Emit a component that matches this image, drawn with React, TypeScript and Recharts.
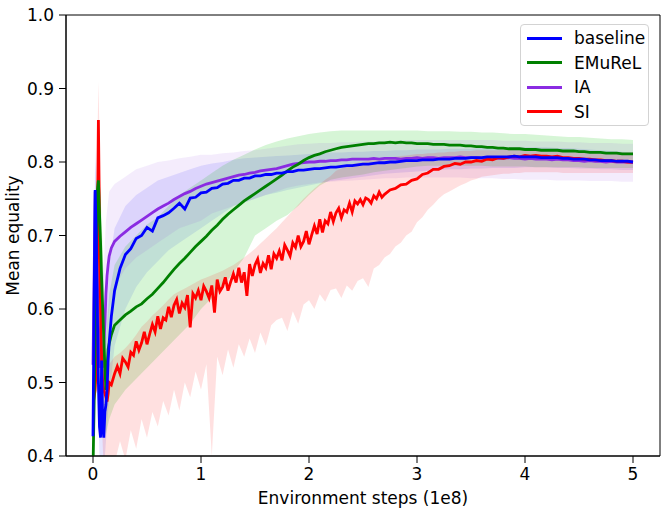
import { ComposedChart, Line, Area, XAxis, YAxis, ReferenceArea, Legend } from "recharts"

// x positions of the logged points (1e8 environment steps)
const steps = [
  0, 0.01, 0.02, 0.03, 0.04, 0.05, 0.06, 0.07, 0.08, 0.09, 0.1, 0.11, 0.12, 0.13, 0.14, 0.15, 0.17, 0.2,
  0.25, 0.3, 0.35, 0.4, 0.45, 0.5, 0.55, 0.6, 0.65, 0.7,
  0.75, 0.8, 0.85, 0.9, 0.95, 1.0, 1.05, 1.1, 1.15, 1.2,
  1.25, 1.3, 1.35, 1.4, 1.45, 1.5, 1.55, 1.6, 1.65, 1.7,
  1.75, 1.8, 1.85, 1.9, 1.95, 2.0, 2.05, 2.1, 2.15, 2.2,
  2.25, 2.3, 2.35, 2.4, 2.45, 2.5, 2.55, 2.6, 2.65, 2.7,
  2.75, 2.8, 2.85, 2.9, 2.95, 3.0, 3.05, 3.1, 3.15, 3.2,
  3.25, 3.3, 3.35, 3.4, 3.45, 3.5, 3.55, 3.6, 3.65, 3.7,
  3.75, 3.8, 3.85, 3.9, 3.95, 4.0, 4.05, 4.1, 4.15, 4.2,
  4.25, 4.3, 4.35, 4.4, 4.45, 4.5, 4.55, 4.6, 4.65, 4.7,
  4.75, 4.8, 4.85, 4.9, 4.95, 5.0,
]

const baseline = [
  0.427, 0.6, 0.762, 0.7, 0.6, 0.5, 0.44, 0.425, 0.53, 0.44, 0.425, 0.46, 0.47, 0.49, 0.53, 0.555, 0.59, 0.625,
  0.655, 0.674, 0.682, 0.696, 0.7, 0.711, 0.706, 0.724, 0.727, 0.731,
  0.737, 0.744, 0.736, 0.751, 0.752, 0.758, 0.759, 0.764, 0.765, 0.77,
  0.771, 0.775, 0.775, 0.778, 0.778, 0.781, 0.781, 0.783, 0.783, 0.785,
  0.785, 0.787, 0.787, 0.789, 0.789, 0.79, 0.791, 0.791, 0.792, 0.793,
  0.793, 0.794, 0.795, 0.795, 0.796, 0.797, 0.797, 0.798, 0.799, 0.799,
  0.8, 0.8, 0.801, 0.802, 0.802, 0.802, 0.803, 0.803, 0.803, 0.804,
  0.804, 0.804, 0.805, 0.805, 0.805, 0.806, 0.806, 0.806, 0.807, 0.807,
  0.807, 0.807, 0.807, 0.808, 0.807, 0.807, 0.807, 0.807, 0.806, 0.806,
  0.806, 0.806, 0.805, 0.805, 0.804, 0.804, 0.804, 0.803, 0.803, 0.802,
  0.802, 0.802, 0.801, 0.801, 0.801, 0.8,
]

const emurel = [
  0.38, 0.47, 0.56, 0.66, 0.76, 0.775, 0.73, 0.69, 0.64, 0.6, 0.56, 0.52, 0.49, 0.52, 0.545, 0.553, 0.565, 0.578,
  0.585, 0.592, 0.597, 0.603, 0.607, 0.614, 0.62, 0.628, 0.636, 0.645,
  0.654, 0.662, 0.669, 0.677, 0.685, 0.692, 0.699, 0.707, 0.714, 0.722,
  0.729, 0.735, 0.741, 0.747, 0.752, 0.757, 0.762, 0.767, 0.772, 0.777,
  0.782, 0.788, 0.793, 0.797, 0.802, 0.806, 0.809, 0.811, 0.814, 0.816,
  0.818, 0.82, 0.821, 0.822, 0.823, 0.824, 0.825, 0.825, 0.826, 0.826,
  0.827, 0.826, 0.827, 0.826, 0.826, 0.825, 0.825, 0.825, 0.824, 0.824,
  0.824, 0.823, 0.823, 0.823, 0.822, 0.822, 0.821, 0.821, 0.82, 0.82,
  0.819, 0.819, 0.818, 0.818, 0.818, 0.817, 0.817, 0.817, 0.816, 0.816,
  0.816, 0.816, 0.815, 0.815, 0.815, 0.814, 0.814, 0.813, 0.813, 0.813,
  0.812, 0.812, 0.812, 0.811, 0.811, 0.811,
]

const ia = [
  0.524, 0.64, 0.76, 0.7, 0.64, 0.58, 0.54, 0.52, 0.53, 0.52, 0.55, 0.58, 0.62, 0.645, 0.66, 0.672, 0.683, 0.692,
  0.699, 0.705, 0.711, 0.716, 0.721, 0.726, 0.731, 0.736, 0.74, 0.744,
  0.749, 0.753, 0.757, 0.76, 0.764, 0.767, 0.77, 0.772, 0.774, 0.776,
  0.778, 0.78, 0.782, 0.783, 0.785, 0.786, 0.788, 0.789, 0.79, 0.791,
  0.793, 0.795, 0.797, 0.798, 0.799, 0.8, 0.8, 0.801, 0.801, 0.802,
  0.802, 0.803, 0.803, 0.804, 0.804, 0.804, 0.804, 0.805, 0.804, 0.805,
  0.805, 0.805, 0.804, 0.805, 0.805, 0.806, 0.805, 0.806, 0.806, 0.805,
  0.806, 0.806, 0.806, 0.807, 0.806, 0.806, 0.806, 0.805, 0.806, 0.805,
  0.805, 0.805, 0.806, 0.805, 0.805, 0.804, 0.805, 0.804, 0.804, 0.804,
  0.803, 0.804, 0.803, 0.803, 0.802, 0.802, 0.801, 0.802, 0.801, 0.801,
  0.8, 0.801, 0.8, 0.8, 0.8, 0.799,
]

// SI is logged more densely, its curve is much noisier
const siSteps = [
  0, 0.01, 0.02, 0.03, 0.04, 0.05, 0.06, 0.07, 0.08, 0.09, 0.1, 0.11, 0.12, 0.13, 0.14, 0.15, 0.17, 0.2,
  0.225, 0.25, 0.275, 0.3, 0.325, 0.35, 0.375, 0.4, 0.425, 0.45,
  0.475, 0.5, 0.525, 0.55, 0.575, 0.6, 0.625, 0.65, 0.675, 0.7,
  0.725, 0.75, 0.775, 0.8, 0.825, 0.85, 0.875, 0.9, 0.925, 0.95,
  0.975, 1.0, 1.025, 1.05, 1.075, 1.1, 1.125, 1.15, 1.175, 1.2,
  1.225, 1.25, 1.275, 1.3, 1.325, 1.35, 1.375, 1.4, 1.425, 1.45,
  1.475, 1.5, 1.525, 1.55, 1.575, 1.6, 1.625, 1.65, 1.675, 1.7,
  1.725, 1.75, 1.775, 1.8, 1.825, 1.85, 1.875, 1.9, 1.925, 1.95,
  1.975, 2.0, 2.025, 2.05, 2.075, 2.1, 2.125, 2.15, 2.175, 2.2,
  2.225, 2.25, 2.275, 2.3, 2.325, 2.35, 2.375, 2.4, 2.425, 2.45,
  2.475, 2.5, 2.525, 2.55, 2.575, 2.6, 2.625, 2.65, 2.675, 2.7,
  2.75, 2.8, 2.85, 2.9, 2.95, 3.0, 3.05, 3.1, 3.15, 3.2,
  3.25, 3.3, 3.35, 3.4, 3.45, 3.5, 3.55, 3.6, 3.65, 3.7,
  3.75, 3.8, 3.85, 3.9, 3.95, 4.0, 4.05, 4.1, 4.15, 4.2,
  4.25, 4.3, 4.35, 4.4, 4.45, 4.5, 4.55, 4.6, 4.65, 4.7,
  4.75, 4.8, 4.85, 4.9, 4.95, 5.0,
]

const si = [
  0.482, 0.48, 0.49, 0.52, 0.7, 0.857, 0.72, 0.6, 0.53, 0.5, 0.49, 0.485, 0.48, 0.474, 0.485, 0.5, 0.497, 0.512,
  0.522, 0.512, 0.533, 0.528, 0.521, 0.541, 0.537, 0.556, 0.544, 0.554,
  0.569, 0.552, 0.566, 0.579, 0.569, 0.59, 0.573, 0.588, 0.585, 0.603,
  0.589, 0.605, 0.613, 0.594, 0.608, 0.602, 0.619, 0.575, 0.621, 0.615,
  0.625, 0.612, 0.631, 0.624, 0.615, 0.632, 0.595, 0.64, 0.624, 0.63,
  0.643, 0.625, 0.637, 0.648, 0.636, 0.656, 0.636, 0.65, 0.618, 0.661,
  0.645, 0.66, 0.668, 0.649, 0.662, 0.656, 0.673, 0.654, 0.675, 0.669,
  0.679, 0.666, 0.687, 0.68, 0.672, 0.69, 0.684, 0.7, 0.685, 0.692,
  0.706, 0.688, 0.701, 0.713, 0.702, 0.722, 0.704, 0.72, 0.716, 0.732,
  0.719, 0.731, 0.737, 0.724, 0.735, 0.732, 0.744, 0.732, 0.747, 0.743,
  0.749, 0.742, 0.751, 0.749, 0.744, 0.754, 0.75, 0.759, 0.752, 0.756,
  0.762, 0.764, 0.769, 0.77, 0.775, 0.777, 0.783, 0.785, 0.79, 0.79,
  0.794, 0.795, 0.798, 0.797, 0.8, 0.8, 0.802, 0.801, 0.804, 0.803,
  0.806, 0.805, 0.807, 0.808, 0.807, 0.809, 0.808, 0.809, 0.808, 0.808,
  0.807, 0.808, 0.806, 0.806, 0.805, 0.805, 0.804, 0.804, 0.803, 0.803,
  0.802, 0.802, 0.801, 0.801, 0.8, 0.8,
]

// shaded spread around the mean curves
const bandSteps = [
  0, 0.02, 0.04, 0.06, 0.08, 0.1, 0.12, 0.15, 0.2,
  0.3, 0.4, 0.5, 0.6, 0.7, 0.8, 0.9, 1.0, 1.1, 1.2,
  1.3, 1.4, 1.5, 1.6, 1.7, 1.8, 1.9, 2.0, 2.1, 2.2,
  2.3, 2.4, 2.5, 2.6, 2.7, 2.8, 2.9, 3.0, 3.1, 3.2,
  3.3, 3.4, 3.5, 3.6, 3.7, 3.8, 3.9, 4.0, 4.1, 4.2,
  4.3, 4.4, 4.5, 4.6, 4.7, 4.8, 4.9, 5.0,
]

const baselineLo = [
  0.42, 0.7, 0.5, 0.4, 0.4, 0.38, 0.42, 0.48, 0.55,
  0.6, 0.63, 0.65, 0.665, 0.68, 0.69, 0.7, 0.71, 0.72, 0.73,
  0.74, 0.745, 0.75, 0.755, 0.758, 0.762, 0.765, 0.768, 0.771, 0.774,
  0.776, 0.778, 0.78, 0.782, 0.784, 0.785, 0.786, 0.787, 0.788, 0.789,
  0.79, 0.79, 0.791, 0.791, 0.792, 0.792, 0.792, 0.793, 0.793, 0.793,
  0.792, 0.792, 0.791, 0.791, 0.79, 0.79, 0.789, 0.789,
]
const baselineHi = [
  0.44, 0.82, 0.72, 0.52, 0.62, 0.5, 0.58, 0.66, 0.71,
  0.74, 0.755, 0.765, 0.775, 0.78, 0.785, 0.79, 0.795, 0.798, 0.8,
  0.803, 0.805, 0.806, 0.807, 0.808, 0.809, 0.81, 0.811, 0.812, 0.813,
  0.813, 0.814, 0.814, 0.815, 0.815, 0.816, 0.816, 0.817, 0.817, 0.817,
  0.818, 0.818, 0.818, 0.819, 0.819, 0.82, 0.82, 0.82, 0.82, 0.82,
  0.819, 0.819, 0.818, 0.817, 0.816, 0.815, 0.814, 0.813,
]

const emurelLo = [
  0.36, 0.45, 0.6, 0.62, 0.52, 0.46, 0.43, 0.45, 0.47,
  0.49, 0.505, 0.52, 0.535, 0.55, 0.565, 0.58, 0.6, 0.615, 0.63,
  0.65, 0.67, 0.7, 0.71, 0.72, 0.728, 0.74, 0.755, 0.768, 0.776,
  0.779, 0.781, 0.783, 0.786, 0.788, 0.79, 0.792, 0.794, 0.795, 0.795,
  0.795, 0.795, 0.795, 0.795, 0.794, 0.794, 0.794, 0.794, 0.793, 0.793,
  0.793, 0.793, 0.793, 0.792, 0.792, 0.792, 0.792, 0.792,
]
const emurelHi = [
  0.42, 0.66, 0.8, 0.79, 0.72, 0.64, 0.56, 0.62, 0.66,
  0.685, 0.7, 0.715, 0.725, 0.74, 0.755, 0.765, 0.775, 0.785, 0.795,
  0.803, 0.81, 0.817, 0.823, 0.828, 0.832, 0.835, 0.838, 0.84, 0.842,
  0.843, 0.843, 0.843, 0.843, 0.843, 0.843, 0.843, 0.843, 0.842, 0.842,
  0.842, 0.841, 0.841, 0.84, 0.84, 0.839, 0.838, 0.838, 0.837, 0.836,
  0.835, 0.834, 0.834, 0.833, 0.832, 0.831, 0.831, 0.83,
]

const iaLo = [
  0.52, 0.7, 0.58, 0.48, 0.46, 0.46, 0.54, 0.6, 0.63,
  0.655, 0.67, 0.68, 0.69, 0.7, 0.71, 0.715, 0.72, 0.73, 0.735,
  0.74, 0.745, 0.75, 0.755, 0.76, 0.765, 0.768, 0.77, 0.772, 0.773,
  0.774, 0.775, 0.776, 0.777, 0.778, 0.778, 0.779, 0.779, 0.779, 0.779,
  0.779, 0.779, 0.778, 0.778, 0.778, 0.777, 0.777, 0.776, 0.776, 0.776,
  0.775, 0.775, 0.775, 0.774, 0.774, 0.774, 0.773, 0.773,
]
const iaHi = [
  0.53, 0.8, 0.74, 0.62, 0.62, 0.66, 0.72, 0.76, 0.77,
  0.78, 0.79, 0.795, 0.8, 0.802, 0.805, 0.807, 0.81, 0.81, 0.812,
  0.813, 0.815, 0.816, 0.818, 0.82, 0.822, 0.824, 0.825, 0.826, 0.826,
  0.827, 0.827, 0.828, 0.828, 0.829, 0.829, 0.83, 0.83, 0.83, 0.83,
  0.83, 0.83, 0.83, 0.83, 0.83, 0.829, 0.829, 0.829, 0.828, 0.828,
  0.828, 0.827, 0.827, 0.826, 0.826, 0.826, 0.825, 0.825,
]

const siBandSteps = [
  0, 0.02, 0.04, 0.05, 0.06, 0.08, 0.1, 0.12, 0.15, 0.2,
  0.25, 0.3, 0.35, 0.4, 0.45, 0.5, 0.55, 0.6, 0.65, 0.7,
  0.75, 0.8, 0.85, 0.9, 0.95, 1.0, 1.05, 1.1, 1.15, 1.2,
  1.25, 1.3, 1.35, 1.4, 1.45, 1.5, 1.55, 1.6, 1.65, 1.7,
  1.75, 1.8, 1.85, 1.9, 1.95, 2.0, 2.05, 2.1, 2.15, 2.2,
  2.25, 2.3, 2.35, 2.4, 2.45, 2.5, 2.55, 2.6, 2.65, 2.7,
  2.75, 2.8, 2.85, 2.9, 2.95, 3.0, 3.05, 3.1, 3.15, 3.2,
  3.25, 3.3, 3.35, 3.4, 3.45, 3.5, 3.55, 3.6, 3.65, 3.7,
  3.75, 3.8, 3.85, 3.9, 3.95, 4.0, 4.05, 4.1, 4.15, 4.2,
  4.25, 4.3, 4.35, 4.4, 4.45, 4.5, 4.55, 4.6, 4.65, 4.7,
  4.75, 4.8, 4.85, 4.9, 4.95, 5.0,
]
const siLo = [
  0.475, 0.47, 0.6, 0.8, 0.62, 0.45, 0.38, 0.36, 0.37, 0.39,
  0.42, 0.395, 0.435, 0.41, 0.45, 0.425, 0.46, 0.44, 0.475, 0.455,
  0.49, 0.462, 0.5, 0.48, 0.515, 0.49, 0.525, 0.4, 0.535, 0.51,
  0.545, 0.52, 0.552, 0.535, 0.56, 0.54, 0.568, 0.55, 0.578, 0.585,
  0.588, 0.57, 0.597, 0.58, 0.606, 0.612, 0.6, 0.62, 0.61, 0.626,
  0.628, 0.615, 0.632, 0.625, 0.638, 0.642, 0.63, 0.655, 0.66, 0.67,
  0.675, 0.685, 0.69, 0.7, 0.705, 0.718, 0.725, 0.735, 0.742, 0.75,
  0.756, 0.76, 0.764, 0.768, 0.771, 0.775, 0.777, 0.78, 0.781, 0.782,
  0.783, 0.784, 0.784, 0.785, 0.785, 0.786, 0.786, 0.786, 0.786, 0.786,
  0.786, 0.786, 0.785, 0.785, 0.785, 0.785, 0.785, 0.785, 0.785, 0.785,
  0.785, 0.785, 0.785, 0.785, 0.785, 0.785,
]
const siHi = [
  0.49, 0.5, 0.82, 0.91, 0.84, 0.62, 0.53, 0.515, 0.525, 0.535,
  0.54, 0.547, 0.555, 0.565, 0.576, 0.583, 0.591, 0.598, 0.605, 0.613,
  0.62, 0.624, 0.628, 0.632, 0.636, 0.64, 0.643, 0.646, 0.649, 0.652,
  0.656, 0.66, 0.665, 0.67, 0.676, 0.682, 0.689, 0.696, 0.703, 0.71,
  0.718, 0.726, 0.734, 0.742, 0.75, 0.757, 0.764, 0.77, 0.776, 0.781,
  0.788, 0.791, 0.794, 0.797, 0.799, 0.8, 0.802, 0.803, 0.804, 0.805,
  0.806, 0.807, 0.808, 0.809, 0.81, 0.811, 0.811, 0.812, 0.812, 0.813,
  0.813, 0.814, 0.814, 0.815, 0.815, 0.815, 0.816, 0.816, 0.816, 0.816,
  0.816, 0.817, 0.817, 0.817, 0.817, 0.817, 0.817, 0.817, 0.816, 0.816,
  0.816, 0.816, 0.815, 0.815, 0.815, 0.815, 0.814, 0.814, 0.814, 0.814,
  0.813, 0.813, 0.813, 0.813, 0.813, 0.813,
]

const xTicks = [0, 1, 2, 3, 4, 5]
const yTicks = [0.4, 0.5, 0.6, 0.7, 0.8, 0.9, 1.0]

const legendItems = [
  { name: "baseline", color: "#0000ff" },
  { name: "EMuReL", color: "#008000" },
  { name: "IA", color: "#8a2be2" },
  { name: "SI", color: "#ff0000" },
]

const FONT = "'DejaVu Sans', sans-serif"
const FS = 17

const toLine = (xs: number[], ys: number[]) => xs.map((x, i) => ({ x, y: ys[i] }))
const toBand = (xs: number[], lo: number[], hi: number[]) => xs.map((x, i) => ({ x, band: [lo[i], hi[i]] }))

function LegendBox() {
  return (
    <div
      style={{
        width: 129,
        height: 102,
        boxSizing: "border-box",
        border: "1px solid #d3d3d3",
        borderRadius: 4,
        background: "rgba(255,255,255,0.8)",
        fontFamily: FONT,
        fontSize: FS,
        color: "#000",
        paddingTop: 1,
      }}
    >
      {legendItems.map(item => (
        <div key={item.name} style={{ height: 24.5, display: "flex", alignItems: "center" }}>
          <div style={{ width: 35, height: 3, marginLeft: 6, background: item.color }} />
          <span style={{ marginLeft: 12 }}>{item.name}</span>
        </div>
      ))}
    </div>
  )
}

export default function App() {
  const tick = { fill: "#000", fontSize: FS, fontFamily: FONT }
  const lw = 2.8
  return (
    <div style={{ position: "absolute", left: 0, top: 0, width: 664, height: 512, background: "#fff" }}>
      <ComposedChart width={664} height={512} margin={{ top: 15, right: 4, bottom: 16, left: 0 }}>
        <XAxis
          type="number"
          dataKey="x"
          domain={[-0.25, 5.25]}
          ticks={xTicks}
          allowDataOverflow
          height={40}
          tickSize={7}
          tickMargin={5}
          stroke="#000"
          tick={tick}
          label={({ viewBox }: any) => (
            <text x={viewBox.x + viewBox.width / 2} y={viewBox.y + 42} textAnchor="middle" dominantBaseline="central" fontSize={FS} fontFamily={FONT} fill="#000">
              Environment steps (1e8)
            </text>
          )}
        />
        <YAxis
          type="number"
          domain={[0.4, 1.0]}
          ticks={yTicks}
          allowDataOverflow
          width={66}
          tickSize={7}
          tickMargin={5}
          stroke="#000"
          tick={tick}
          tickFormatter={(v: number) => v.toFixed(1)}
          label={({ viewBox }: any) => {
            const cx = viewBox.x + 13
            const cy = viewBox.y + viewBox.height / 2
            return (
              <text x={cx} y={cy} transform={`rotate(-90 ${cx} ${cy})`} textAnchor="middle" dominantBaseline="central" fontSize={FS} fontFamily={FONT} fill="#000">
                Mean equality
              </text>
            )
          }}
        />
        <Area data={toBand(bandSteps, baselineLo, baselineHi)} dataKey="band" type="linear" stroke="none" fill="#0000ff" fillOpacity={0.1} isAnimationActive={false} legendType="none" />
        <Area data={toBand(bandSteps, emurelLo, emurelHi)} dataKey="band" type="linear" stroke="none" fill="#32cd32" fillOpacity={0.2} isAnimationActive={false} legendType="none" />
        <Area data={toBand(bandSteps, iaLo, iaHi)} dataKey="band" type="linear" stroke="none" fill="#8a2be2" fillOpacity={0.09} isAnimationActive={false} legendType="none" />
        <Area data={toBand(siBandSteps, siLo, siHi)} dataKey="band" type="linear" stroke="none" fill="#ff0000" fillOpacity={0.12} isAnimationActive={false} legendType="none" />
        <Line data={toLine(steps, ia)} dataKey="y" name="IA" type="linear" stroke="#8a2be2" strokeWidth={lw} dot={false} isAnimationActive={false} />
        <Line data={toLine(siSteps, si)} dataKey="y" name="SI" type="linear" stroke="#ff0000" strokeWidth={lw} dot={false} isAnimationActive={false} />
        <Line data={toLine(steps, emurel)} dataKey="y" name="EMuReL" type="linear" stroke="#008000" strokeWidth={lw} dot={false} isAnimationActive={false} />
        <Line data={toLine(steps, baseline)} dataKey="y" name="baseline" type="linear" stroke="#0000ff" strokeWidth={lw} dot={false} isAnimationActive={false} />
        <ReferenceArea x1={-0.25} x2={5.25} y1={0.4} y2={1.0} fill="none" stroke="#000" strokeWidth={1} ifOverflow="visible" />
        <Legend layout="vertical" align="center" verticalAlign="middle" wrapperStyle={{ top: 24, left: 520, width: 129 }} content={() => <LegendBox />} />
      </ComposedChart>
    </div>
  )
}
